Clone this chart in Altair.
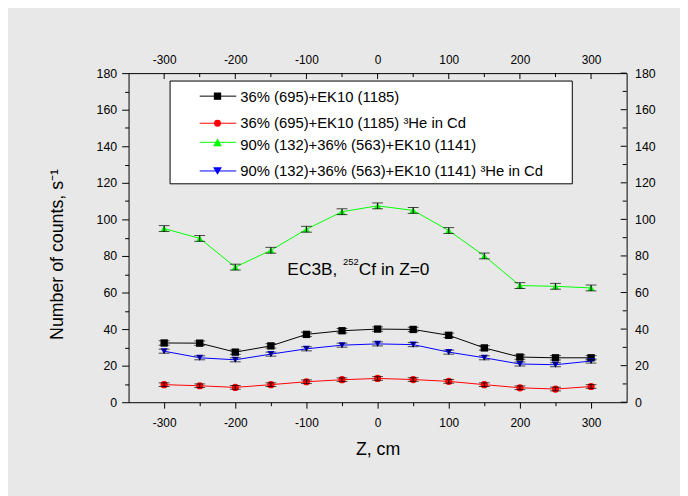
import altair as alt
import pandas as pd

# ---------------- data ----------------
z_values = [-300, -250, -200, -150, -100, -50, 0, 50, 100, 150, 200, 250, 300]
series_names = [
    "36% (695)+EK10 (1185)",
    "36% (695)+EK10 (1185) ³He in Cd",
    "90% (132)+36% (563)+EK10 (1141)",
    "90% (132)+36% (563)+EK10 (1141) ³He in Cd",
]
black_counts = [32.4, 32.3, 27.4, 30.8, 37.1, 39.1, 40.0, 39.8, 36.6, 29.7, 24.7, 24.3, 24.3]
red_counts = [9.6, 9.0, 8.1, 9.6, 11.2, 12.3, 13.0, 12.4, 11.4, 9.6, 7.9, 7.2, 8.6]
green_counts = [95.0, 89.6, 73.9, 83.1, 94.6, 104.2, 107.4, 104.9, 93.9, 80.0, 63.8, 63.4, 62.5]
blue_counts = [27.9, 24.3, 23.2, 26.3, 29.2, 31.2, 31.9, 31.5, 27.4, 24.3, 20.9, 20.5, 22.5]
series_errors = [1.2, 1.0, 1.6, 1.1]
series_colors = ["#000000", "#ff0000", "#00ff00", "#0000ff"]
series_shapes = ["square", "circle", "triangle-up", "triangle-down"]
x_ticks = list(range(-300, 301, 50))
y_ticks = list(range(0, 181, 10))
x_domain = [-350, 350]
y_domain = [0, 180]
x_title = "Z, cm"
y_title = "Number of counts, s⁻¹"
note_parts = ["EC3B,", "252", "Cf in Z=0"]

# ---------------- layout ----------------
W, H = 504, 333
FONT = "Liberation Sans"
px_x = W / (x_domain[1] - x_domain[0])
px_y = H / (y_domain[1] - y_domain[0])

rows = []
for name, vals, err in zip(series_names,
                           [black_counts, red_counts, green_counts, blue_counts],
                           series_errors):
    for z, v in zip(z_values, vals):
        rows.append({"z": z, "counts": v, "lo": v - err, "hi": v + err, "series": name})
df = pd.DataFrame(rows)

xs = alt.Scale(domain=x_domain, nice=False, zero=False)
ys = alt.Scale(domain=y_domain, nice=False, zero=False)
color_scale = alt.Scale(domain=series_names, range=series_colors)
shape_scale = alt.Scale(domain=series_names, range=series_shapes)
size_scale = alt.Scale(domain=series_names, range=[55, 50, 80, 80])

is_major_x = "datum.value % 100 === 0"
is_major_y = "datum.value % 20 === 0"

x_axis = alt.Axis(
    orient="bottom", values=x_ticks, grid=False,
    labelExpr=f"{is_major_x} ? '' + datum.value : ''",
    tickSize={"condition": {"test": is_major_x, "value": 6}, "value": 3.5},
    tickColor="black", domainColor="black", labelColor="black",
    labelFont=FONT, labelFontSize=12, labelPadding=10,
    title=x_title, titleFont=FONT, titleFontSize=18, titleFontWeight="normal",
    titleColor="black", titleBaseline="alphabetic", titleY=53,
)
y_axis = alt.Axis(
    orient="left", values=y_ticks, grid=False,
    labelExpr=f"{is_major_y} ? '' + datum.value : ''",
    tickSize={"condition": {"test": is_major_y, "value": 7}, "value": 4},
    tickColor="black", domainColor="black", labelColor="black",
    labelFont=FONT, labelFontSize=12.5, labelPadding=5,
    title=y_title, titleFont=FONT, titleFontSize=18, titleFontWeight="normal",
    titleColor="black", titleBaseline="alphabetic", titleAngle=270,
    titleX=-67, titleY=183, titleAlign="center",
)

X = alt.X("z:Q", scale=xs, axis=x_axis)
Y = alt.Y("counts:Q", scale=ys, axis=y_axis)

base = alt.Chart(df)
lines = base.mark_line(strokeWidth=1).encode(
    x=X, y=Y,
    color=alt.Color("series:N", scale=color_scale, legend=None),
    detail="series:N",
)
points = base.mark_point(filled=True, opacity=1).encode(
    x=X, y=Y,
    color=alt.Color("series:N", scale=color_scale, legend=None),
    shape=alt.Shape("series:N", scale=shape_scale, legend=None),
    size=alt.Size("series:N", scale=size_scale, legend=None),
)
errs = base.mark_errorbar(ticks=True, size=11, thickness=1, color="black").encode(
    x=X,
    y=alt.Y("lo:Q", scale=ys, axis=y_axis),
    y2="hi:Q",
)
data_layer = alt.layer(lines, points, errs)

# top axis with inward ticks
tdf = pd.DataFrame({"t": x_ticks})
top_layer = alt.Chart(tdf).mark_rule(color="black", strokeWidth=1).transform_calculate(
    y0=str(y_domain[1]),
    y1=f"{y_domain[1]} - (datum.t % 100 === 0 ? 6 : 4) / {px_y}",
).encode(
    x=alt.X("t:Q", scale=xs, axis=alt.Axis(
        orient="top", values=[v for v in x_ticks if v % 100 == 0], grid=False,
        ticks=False, labelExpr="'' + datum.value", labelColor="black",
        labelFont=FONT, labelFontSize=12, labelPadding=10, labelBaseline="alphabetic",
        domainColor="black", title=None)),
    y=alt.Y("y0:Q", scale=ys, axis=None),
    y2="y1:Q",
)

# right axis with inward ticks
rdf = pd.DataFrame({"t": y_ticks})
right_layer = alt.Chart(rdf).mark_rule(color="black", strokeWidth=1).transform_calculate(
    x0=str(x_domain[1]),
    x1=f"{x_domain[1]} - (datum.t % 20 === 0 ? 6 : 4) / {px_x}",
).encode(
    y=alt.Y("t:Q", scale=ys, axis=alt.Axis(
        orient="right", values=[v for v in y_ticks if v % 20 == 0], grid=False,
        ticks=False, labelExpr="'' + datum.value", labelColor="black",
        labelFont=FONT, labelFontSize=12.5, labelPadding=8,
        domainColor="black", title=None)),
    x=alt.X("x0:Q", scale=xs, axis=None),
    x2="x1:Q",
)

# custom legend
one = pd.DataFrame({"a": [0]})
legend_layers = [
    alt.Chart(one).mark_rect(fill="white", stroke="black", strokeWidth=1).encode(
        x=alt.value(42), x2=alt.value(449), y=alt.value(8), y2=alt.value(112))
]
row_cy = [23.3, 50.7, 70.0, 99.0]
row_base = [29.0, 55.7, 77.3, 104.0]
sym_sizes = [55, 50, 80, 80]
for name, col, shp, cy, by, ss in zip(series_names, series_colors, series_shapes,
                                      row_cy, row_base, sym_sizes):
    legend_layers.append(alt.Chart(one).mark_rule(color=col, strokeWidth=1).encode(
        x=alt.value(72), x2=alt.value(109), y=alt.value(cy)))
    legend_layers.append(alt.Chart(one).mark_point(
        shape=shp, filled=True, color=col, opacity=1, size=ss).encode(
        x=alt.value(90), y=alt.value(cy)))
    legend_layers.append(alt.Chart(one).mark_text(
        align="left", baseline="alphabetic", font=FONT, fontSize=15, color="black").encode(
        x=alt.value(113), y=alt.value(by), text=alt.value(name)))

# annotation
note_layers = [
    alt.Chart(one).mark_text(align="left", baseline="alphabetic", font=FONT,
                             fontSize=17.5, color="black").encode(
        x=alt.value(160.7), y=alt.value(204.7), text=alt.value(note_parts[0])),
    alt.Chart(one).mark_text(align="left", baseline="alphabetic", font=FONT,
                             fontSize=9.5, color="black").encode(
        x=alt.value(217), y=alt.value(193.7), text=alt.value(note_parts[1])),
    alt.Chart(one).mark_text(align="left", baseline="alphabetic", font=FONT,
                             fontSize=17.5, color="black").encode(
        x=alt.value(233), y=alt.value(204.7), text=alt.value(note_parts[2])),
]

chart = alt.layer(
    data_layer, top_layer, right_layer, *legend_layers, *note_layers
).resolve_axis(x="independent", y="independent").properties(
    width=W, height=H,
    autosize=alt.AutoSizeParams(type="none"),
    padding={"left": 122, "top": 63, "right": 54, "bottom": 92},
    background="#e8e8e8",
).configure_view(stroke=None)

chart.save("out.html", embed_options={"renderer": "svg", "actions": False})
